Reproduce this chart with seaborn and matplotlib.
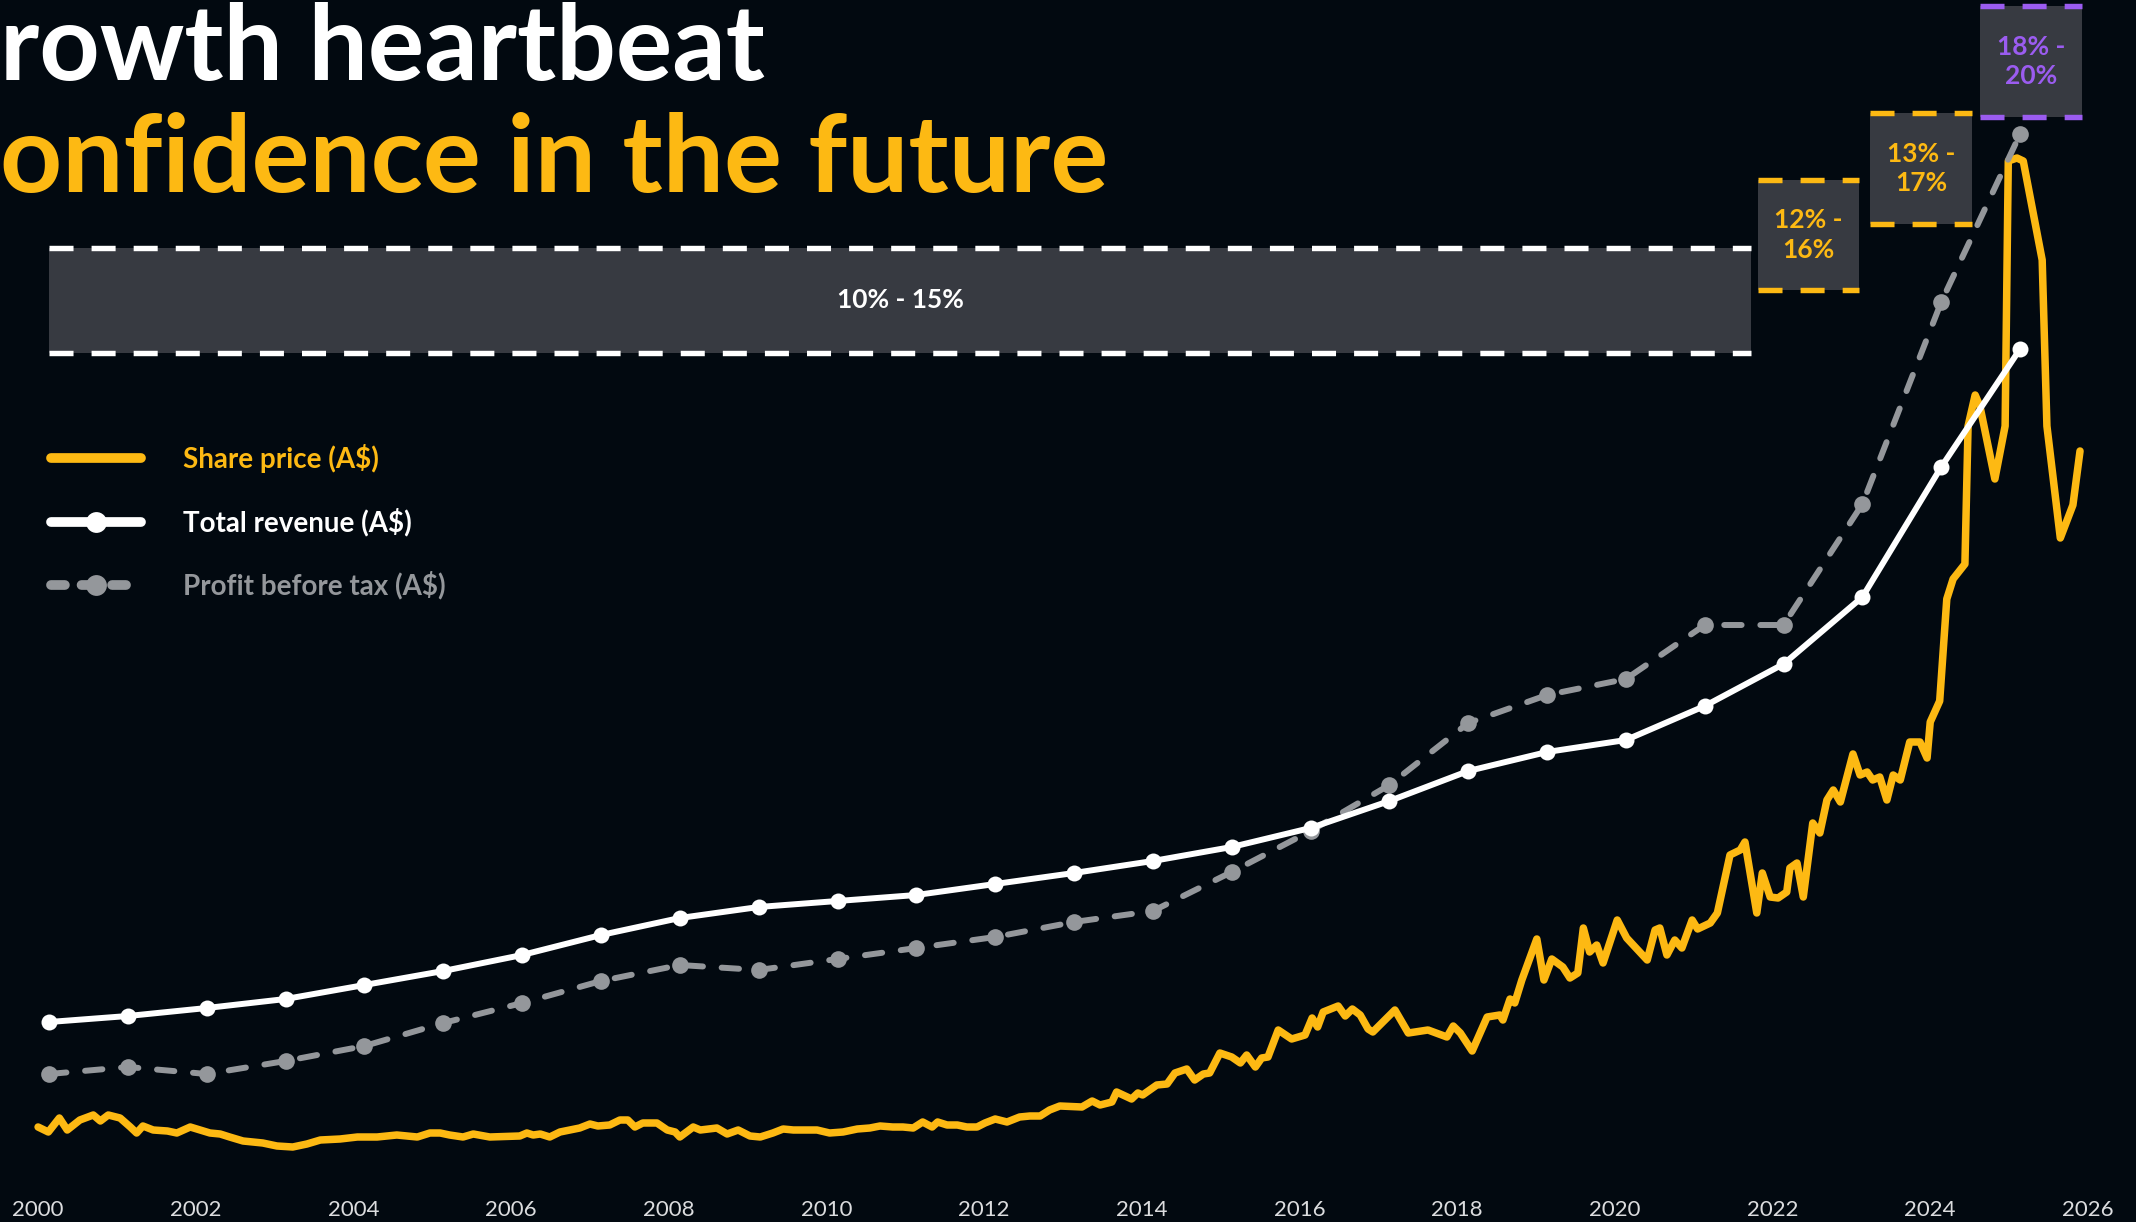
import numpy as np
import pandas as pd
import seaborn as sns
import matplotlib.pyplot as plt
from matplotlib.lines import Line2D
from matplotlib.patches import Rectangle

# colours
bg = '#020910'
yellow = '#FDB913'
purple = '#9B5CF0'
grey = '#94979B'
box_fill = '#373A41'

# annual results (fiscal year ends), chart index units
fy_years = [2000.14, 2001.14, 2002.14, 2003.14, 2004.14, 2005.14, 2006.14, 2007.14, 2008.14,
            2009.14, 2010.14, 2011.14, 2012.14, 2013.14, 2014.14, 2015.14, 2016.14, 2017.14,
            2018.14, 2019.14, 2020.14, 2021.14, 2022.14, 2023.14, 2024.14, 2025.14]
revenue = [168, 174, 182, 191, 205, 219, 235, 255, 272, 283, 289, 295, 306, 317, 329, 343,
           362, 389, 419, 438, 450, 484, 526, 593, 723, 841]
profit = [116, 123, 116, 129, 144, 167, 187, 209, 225, 220, 231, 242, 253, 268, 279, 318,
          359, 405, 467, 495, 511, 565, 565, 686, 888, 1056]

# share price
price_year = [
    2000.00, 2000.13, 2000.27, 2000.37, 2000.53, 2000.70, 2000.79, 2000.89, 2001.04, 2001.17,
    2001.25, 2001.33, 2001.46, 2001.64, 2001.76, 2001.93, 2002.18, 2002.31, 2002.43, 2002.60,
    2002.85, 2003.03, 2003.23, 2003.41, 2003.58, 2003.83, 2004.05, 2004.30, 2004.55, 2004.81,
    2004.97, 2005.10, 2005.22, 2005.39, 2005.52, 2005.73, 2006.11, 2006.20, 2006.28,
    2006.37, 2006.49, 2006.62, 2006.87, 2007.00, 2007.10, 2007.25, 2007.38, 2007.48, 2007.57,
    2007.67, 2007.85, 2007.98, 2008.08, 2008.14, 2008.31, 2008.40, 2008.61, 2008.74, 2008.88,
    2009.03, 2009.16, 2009.32, 2009.45, 2009.58, 2009.88, 2010.04, 2010.21, 2010.39, 2010.55,
    2010.68, 2010.84, 2010.97, 2011.10, 2011.22, 2011.34, 2011.41, 2011.53, 2011.66, 2011.78,
    2011.91, 2012.01, 2012.14, 2012.29, 2012.45, 2012.58, 2012.71, 2012.83, 2012.96,
    2013.24, 2013.37, 2013.47, 2013.62, 2013.68, 2013.87, 2013.95, 2014.01, 2014.19, 2014.32,
    2014.42, 2014.57, 2014.67, 2014.78, 2014.86, 2014.99, 2015.14, 2015.25, 2015.33, 2015.44,
    2015.52, 2015.60, 2015.73, 2015.90, 2016.07, 2016.16, 2016.23, 2016.30, 2016.49, 2016.58,
    2016.67, 2016.77, 2016.87, 2016.93, 2017.21, 2017.38, 2017.63, 2017.87, 2017.95, 2018.04,
    2018.19, 2018.38, 2018.54, 2018.58, 2018.67, 2018.73, 2018.82, 2019.01, 2019.10, 2019.20,
    2019.34, 2019.43, 2019.53, 2019.60, 2019.68, 2019.77, 2019.85, 2020.03, 2020.15, 2020.41,
    2020.51, 2020.57, 2020.66, 2020.76, 2020.85, 2020.98, 2021.05, 2021.21, 2021.30, 2021.46,
    2021.59, 2021.65, 2021.80, 2021.87, 2021.97, 2022.07, 2022.18, 2022.22, 2022.31, 2022.39,
    2022.51, 2022.60, 2022.69, 2022.77, 2022.86, 2023.02, 2023.11, 2023.20, 2023.27, 2023.36,
    2023.45, 2023.53, 2023.62,
    2023.74, 2023.87, 2023.96, 2024.00, 2024.12, 2024.21, 2024.29, 2024.44, 2024.48, 2024.57,
    2024.63, 2024.82, 2024.95, 2024.99, 2025.10, 2025.18, 2025.42, 2025.48, 2025.65, 2025.81,
    2025.90]
price_value = [
    63, 58, 72, 60, 70, 75, 69, 75, 72, 63, 57, 64, 60, 59, 57, 63, 57, 56, 53, 49,
    47, 44, 43, 46, 50, 51, 53, 53, 55, 53, 57, 57, 55, 53, 56, 53, 54, 57, 55,
    56, 53, 58, 62, 66, 64, 65, 70, 70, 63, 67, 67, 60, 58, 53, 63, 60, 62, 56, 60,
    54, 53, 57, 61, 60, 60, 57, 58, 61, 62, 64, 63, 63, 62, 68, 63, 68, 65, 65, 63,
    63, 67, 71, 68, 73, 74, 74, 80, 84,
    83, 89, 85, 88, 98, 91, 97, 95, 105, 106, 117, 121, 110, 116, 117, 137, 133, 127, 135, 123,
    132, 133, 160, 151, 155, 172, 163, 178, 184, 174, 181, 175, 161, 158, 180, 157, 160, 153, 164, 157,
    139, 173, 175, 170, 191, 187, 210, 251, 210, 231,
    223, 212, 217, 262, 238, 245, 227, 270, 252, 230, 260, 262, 235, 250, 242, 270, 261, 267, 277, 335,
    340, 348, 277, 317, 293, 292, 298, 322, 327, 293, 367, 357, 390, 400, 388, 436, 415, 418, 410, 413,
    390, 415, 410,
    448, 448, 432, 468, 489, 591, 611, 626, 764, 795, 784, 711, 764, 1029, 1032, 1029, 930, 764, 652, 685,
    739]

# growth target boxes
box_labels = ['10% - 15%', '12% -\n16%', '13% -\n17%', '18% -\n20%']
box_start = [2000.14, 2021.81, 2023.24, 2024.63]
box_end = [2021.73, 2023.10, 2024.53, 2025.92]
box_low = [837, 900, 966, 1073]
box_high = [942, 1010, 1077, 1184]
box_colors = ['white', yellow, yellow, purple]

tick_years = list(range(2000, 2027, 2))

sns.set_theme(style='dark')
plt.rcParams['font.family'] = ['Lato', 'DejaVu Sans']
plt.rcParams['lines.scale_dashes'] = False

fig = plt.figure(figsize=(21.36, 12.22), dpi=100, facecolor=bg)
ax = fig.add_axes([0, 32 / 1222, 1, 1190 / 1222])
ax.set_facecolor(bg)

# boxes
for lab, x0, x1, y0, y1, c in zip(box_labels, box_start, box_end, box_low, box_high, box_colors):
    ax.add_patch(Rectangle((x0, y0), x1 - x0, y1 - y0, facecolor=box_fill, edgecolor='none', zorder=1))
    for yy in (y0, y1):
        ax.plot([x0, x1], [yy, yy], color=c, lw=3.9, linestyle=(0, (17.3, 13)),
                solid_capstyle='butt', dash_capstyle='butt', zorder=1.5)
    ax.text((x0 + x1) / 2, (y0 + y1) / 2, lab, ha='center', va='center', color=c,
            fontsize=19, fontweight='bold', linespacing=1.25, zorder=2)

# series
sns.lineplot(x=price_year, y=price_value, color=yellow, linewidth=5.4, estimator=None,
             sort=False, ax=ax, zorder=3, solid_joinstyle='round', solid_capstyle='round')
sns.lineplot(x=fy_years, y=profit, color=grey, linewidth=4.3, estimator=None, sort=False,
             marker='o', markersize=12, markeredgewidth=0, linestyle=(0, (12.5, 13.5)),
             dash_capstyle='round', ax=ax, zorder=4)
sns.lineplot(x=fy_years, y=revenue, color='white', linewidth=4.3, estimator=None, sort=False,
             marker='o', markersize=11.5, markeredgewidth=0, ax=ax, zorder=5)

ax.set_xlim(1999.517, 2026.61)
ax.set_ylim(0, 1190)
ax.set_xticks(tick_years)
ax.set_xticklabels([str(y) for y in tick_years])
ax.tick_params(axis='x', length=0, pad=7, labelsize=16, labelcolor='#dcdddf')
ax.set_yticks([])
ax.set_xlabel('')
ax.set_ylabel('')
ax.grid(False)
for s in ax.spines.values():
    s.set_visible(False)

# legend
handles = [
    Line2D([], [], color=yellow, lw=7, solid_capstyle='round'),
    Line2D([], [], color='white', lw=7, marker='o', markersize=15, markeredgewidth=0,
           solid_capstyle='round'),
    Line2D([], [], color=grey, lw=7, marker='o', markersize=15, markeredgewidth=0,
           linestyle=(0, (10, 12)), dash_capstyle='round'),
]
labels = ['Share price (A$)', 'Total revenue (A$)', 'Profit before tax (A$)']
leg = ax.legend(handles, labels, loc='upper left', bbox_to_anchor=(51 / 2136, 1 - 444 / 1222),
                bbox_transform=fig.transFigure, frameon=False, handlelength=3.24, handletextpad=1.5,
                labelspacing=1.25, borderpad=0, borderaxespad=0, numpoints=1,
                prop={'size': 20, 'weight': 'bold'})
for t, c in zip(leg.get_texts(), [yellow, 'white', grey]):
    t.set_color(c)

# title (cropped in the source)
fig.text(0.0, 1 - 80 / 1222, 'rowth heartbeat', ha='left', va='baseline', color='white',
         fontsize=76, fontweight='bold')
fig.text(0.0, 1 - 192 / 1222, 'onfidence in the future', ha='left', va='baseline',
         color=yellow, fontsize=78, fontweight='bold')

fig.savefig('out.png', dpi=100, facecolor=bg)
